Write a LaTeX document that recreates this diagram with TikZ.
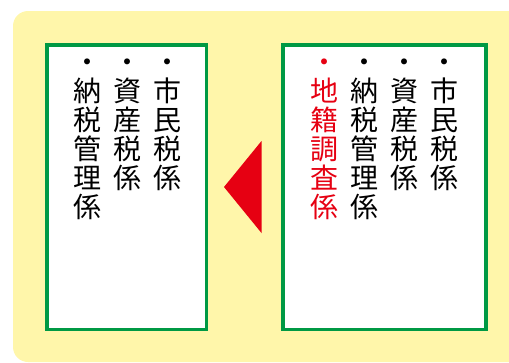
\documentclass[tikz,border=0pt]{standalone}
\usepackage{fontspec}
\newfontfamily\jpfont{Noto Sans CJK JP}
\usepackage{tikz}
\usetikzlibrary{calc}
\definecolor{bggelb}{RGB}{255,246,170}
\definecolor{rahmgruen}{RGB}{0,153,68}
\definecolor{pfeilrot}{RGB}{230,0,18}
\newcommand{\kopf}{\rule{0pt}{24.6pt}・}
\begin{document}
\begin{tikzpicture}[x=1pt,y=-1pt,
	rahmen/.style={draw=rahmgruen,line width=3.5pt,fill=white},
	spalte/.style={anchor=north,align=center,inner sep=0pt,font=\jpfont\fontsize{28pt}{29pt}\selectfont}]
		\useasboundingbox (0,0) rectangle (509,362);
		\clip (0,0) rectangle (509,362);
		\fill[bggelb,rounded corners=15pt] (13,11) rectangle (540,362);

		\coordinate (LA) at (47,45);
		\coordinate (LB) at (206.5,329.5);
		\draw[rahmen] (LA) rectangle (LB);
		\draw (167,48) node[spalte] (L1) {\kopf\\市\\民\\税\\係};
		\draw (127,48) node[spalte] (L2) {\kopf\\資\\産\\税\\係};
		\draw (87,48) node[spalte] (L3) {\kopf\\納\\税\\管\\理\\係};

		\coordinate (RA) at (283,45);
		\coordinate (RB) at (486,329.5);
		\draw[rahmen] (RA) rectangle (RB);
		\draw (444,48) node[spalte] (R1) {\kopf\\市\\民\\税\\係};
		\draw (404,48) node[spalte] (R2) {\kopf\\資\\産\\税\\係};
		\draw (364,48) node[spalte] (R3) {\kopf\\納\\税\\管\\理\\係};
		\draw (324,48) node[spalte,text=pfeilrot] (R4) {\kopf\\地\\籍\\調\\査\\係};

		\coordinate (P1) at (224,187);
		\coordinate (P2) at (261.5,141);
		\coordinate (P3) at (261.5,233);
		\fill[pfeilrot] (P1)--(P2)--(P3)--cycle;
\end{tikzpicture}
\end{document}
